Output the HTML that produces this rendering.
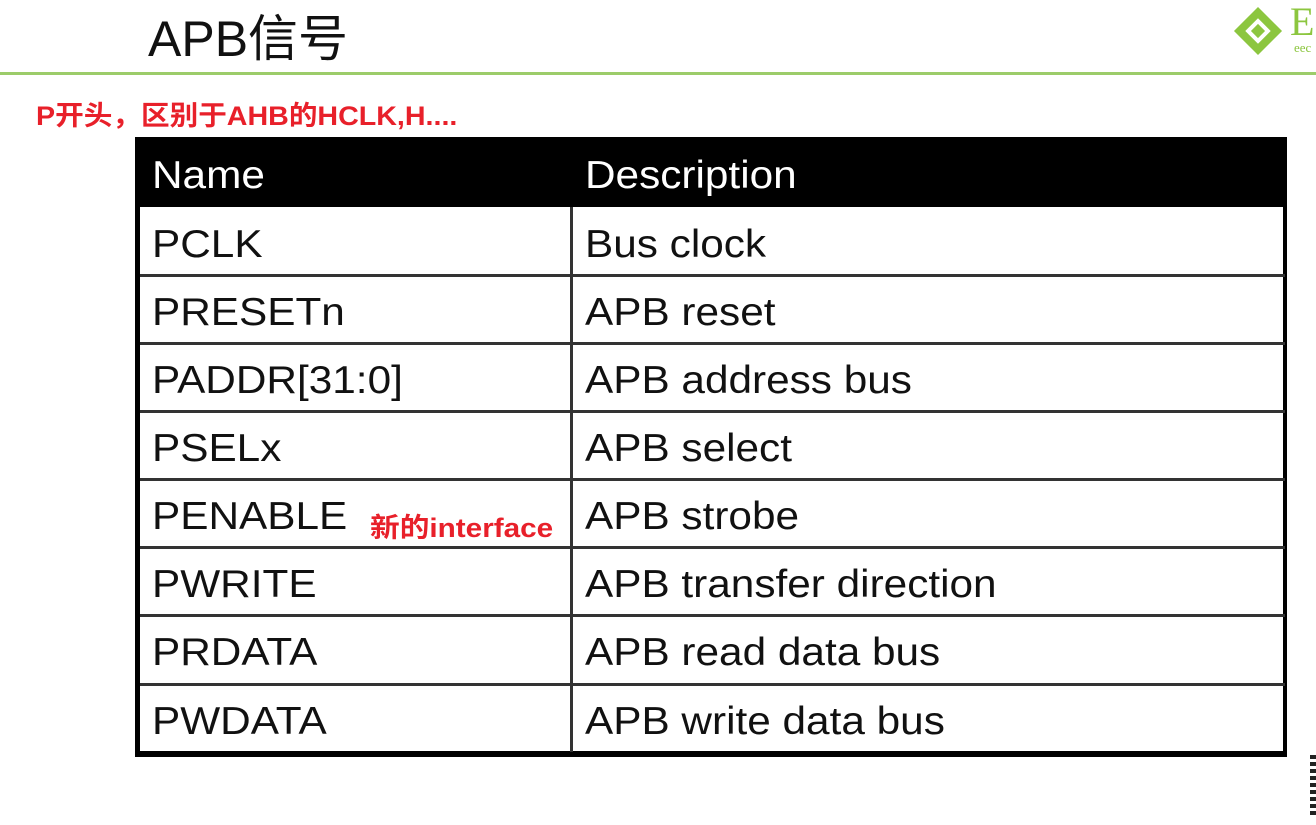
<!DOCTYPE html>
<html><head><meta charset="utf-8"><style>
body{margin:0;width:1316px;height:825px;background:#fff;position:relative;overflow:hidden;font-family:"Liberation Sans","Noto Sans CJK SC",sans-serif}
.a{position:absolute}
.t{position:absolute;font-size:39px;color:#111;line-height:1;white-space:nowrap;transform:scaleX(1.085);transform-origin:0 0}
.h{color:#fff}
.hl{position:absolute;left:140px;width:1145px;height:3px;background:#333}
</style></head><body>
<div class="a" style="left:148px;top:14px;font-size:50px;color:#111;line-height:1">APB信号</div>
<div class="a" style="left:0;top:72px;width:1316px;height:3px;background:#9ccc6a"></div>
<svg class="a" style="left:1228px;top:6px" width="60" height="50"><g transform="translate(30,25) rotate(45)"><rect x="-17" y="-17" width="34" height="34" fill="#8cc63f"/><rect x="-9" y="-9" width="18" height="18" fill="#fff"/><rect x="-5" y="-5" width="10" height="10" fill="#8cc63f"/></g></svg>
<div class="a" style="left:1290px;top:2px;font-family:'Liberation Serif',serif;font-size:40px;color:#8cc63f;line-height:1">E</div>
<div class="a" style="left:1294px;top:40px;font-family:'Liberation Serif',serif;font-size:13px;color:#8cc63f">eec</div>
<div class="a" style="left:36px;top:94px;font-size:27px;font-weight:bold;color:#e8202a;white-space:nowrap;transform:scaleX(1.06);transform-origin:0 0">P开头，区别于AHB的HCLK,H....</div>
<div class="a" style="left:135px;top:137px;width:1152px;height:620px;background:#000"></div>
<div class="a" style="left:140px;top:207px;width:1143px;height:544px;background:#fff"></div>
<div class="hl" style="top:274px"></div><div class="hl" style="top:342px"></div><div class="hl" style="top:410px"></div><div class="hl" style="top:478px"></div><div class="hl" style="top:546px"></div><div class="hl" style="top:614px"></div><div class="hl" style="top:683px"></div>
<div class="a" style="left:570px;top:207px;width:3px;height:545px;background:#333"></div>
<div class="t h" style="left:152px;top:156px">Name</div><div class="t h" style="left:585px;top:156px">Description</div>
<div class="t" style="left:152px;top:225px">PCLK</div><div class="t" style="left:585px;top:225px">Bus clock</div>
<div class="t" style="left:152px;top:293px">PRESETn</div><div class="t" style="left:585px;top:293px">APB reset</div>
<div class="t" style="left:152px;top:361px">PADDR[31:0]</div><div class="t" style="left:585px;top:361px">APB address bus</div>
<div class="t" style="left:152px;top:429px">PSELx</div><div class="t" style="left:585px;top:429px">APB select</div>
<div class="t" style="left:152px;top:497px">PENABLE</div><div class="t" style="left:585px;top:497px">APB strobe</div>
<div class="a" style="left:370px;top:506px;font-size:27px;font-weight:bold;color:#e8202a;white-space:nowrap;transform:scaleX(1.1);transform-origin:0 0">新的interface</div>
<div class="t" style="left:152px;top:565px">PWRITE</div><div class="t" style="left:585px;top:565px">APB transfer direction</div>
<div class="t" style="left:152px;top:633px">PRDATA</div><div class="t" style="left:585px;top:633px">APB read data bus</div>
<div class="t" style="left:152px;top:702px">PWDATA</div><div class="t" style="left:585px;top:702px">APB write data bus</div>
<div class="a" style="left:1310px;top:755px;width:6px;height:62px;background:repeating-linear-gradient(#222 0 4px,#fff 4px 7px)"></div>
</body></html>
